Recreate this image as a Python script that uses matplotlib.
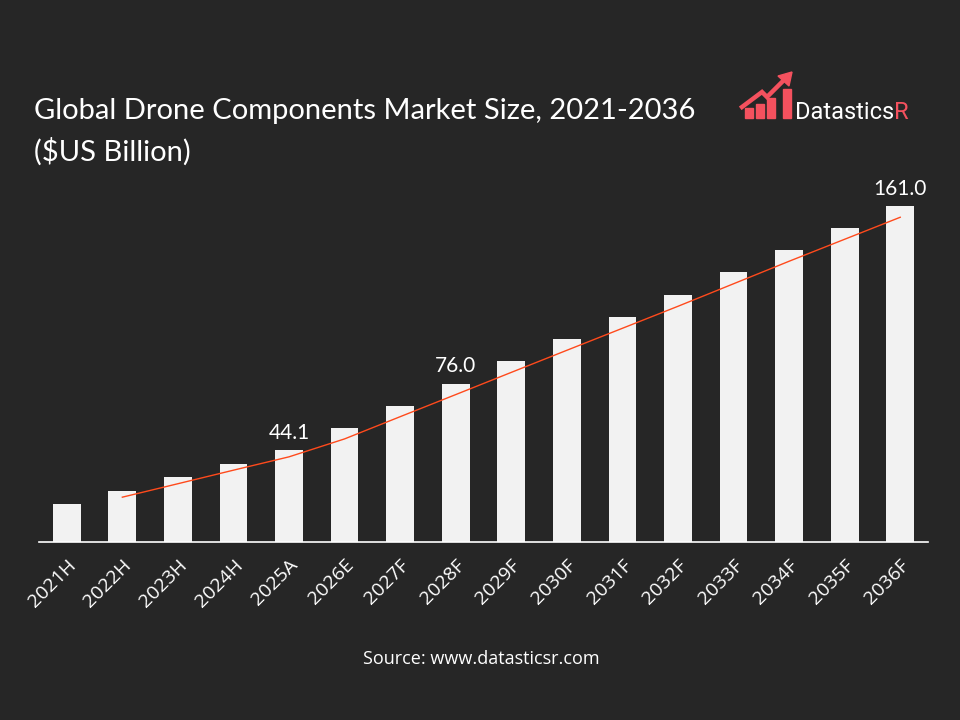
import numpy as np
import matplotlib
matplotlib.use('Agg')
from matplotlib import pyplot as plt
from matplotlib.patches import Rectangle, Polygon
from matplotlib.lines import Line2D

BG = '#262626'
BAR_COLOR = '#F2F2F2'
TREND_COLOR = '#FF4A1C'
LOGO_RED = '#F4515E'

years = ['2021H', '2022H', '2023H', '2024H', '2025A', '2026E', '2027F', '2028F',
         '2029F', '2030F', '2031F', '2032F', '2033F', '2034F', '2035F', '2036F']
values = [18.4, 24.6, 31.3, 37.6, 44.1, 54.8, 65.4, 76.0,
          86.7, 97.2, 107.8, 118.3, 129.4, 139.9, 150.5, 161.0]
labeled = ['2025A', '2028F', '2036F']

plt.rcParams['font.family'] = ['Lato', 'DejaVu Sans']

W, H = 960, 720
fig = plt.figure(figsize=(9.6, 7.2), dpi=100, facecolor=BG)


def px(x, y):
  # pixel coords (top-left origin) -> figure fraction
  return x / W, 1 - y / H


ax = fig.add_axes([39 / W, 1 - 542 / H, (928 - 39) / W, (542 - 180) / H])
ax.set_facecolor(BG)

x = np.arange(len(years))
ax.bar(x, values, width=0.5, color=BAR_COLOR, zorder=2)

# moving average trendline (period 2)
vals = np.array(values)
ma = (vals[1:] + vals[:-1]) / 2
ax.plot(x[1:], ma, color=TREND_COLOR, lw=1.0, zorder=3)

for i, (yr, v) in enumerate(zip(years, values)):
  if yr in labeled:
    ax.text(i, v + 3.5, f'{v:.1f}', ha='center', va='bottom', color='white', fontsize=15)

ax.set_xlim(-0.5, len(years) - 0.5)
ax.set_ylim(0, 362 / 2.085)
ax.set_yticks([])
ax.set_xticks(x)
ax.set_xticklabels(years, rotation=45, ha='right', rotation_mode='anchor', color='white',
                   fontsize=14, family=['Open Sans', 'DejaVu Sans'])
ax.tick_params(axis='x', length=0, pad=10)
for s in ['top', 'right', 'left']:
  ax.spines[s].set_visible(False)
ax.spines['bottom'].set_color('white')
ax.spines['bottom'].set_linewidth(1.2)

# title
fig.text(*px(34, 111), 'Global Drone Components Market Size, 2021-2036', color='white',
         fontsize=21, va='center', ha='left')
fig.text(*px(34, 152), '($US Billion)', color='white', fontsize=21, va='center', ha='left')

# source
fig.text(*px(481, 659), 'Source: www.datasticsr.com', color='white', fontsize=13,
         ha='center', va='center', family=['Open Sans', 'DejaVu Sans'])

# logo
for (x0, x1, top) in [(745, 753, 108), (756, 764, 104), (767, 775, 98), (783, 791, 89)]:
  fig.patches.append(Rectangle(px(x0, 118), (x1 - x0) / W, (118 - top) / H,
                               transform=fig.transFigure, color=LOGO_RED))
arrow_x = [742, 762, 767, 785]
arrow_y = [107, 92, 97, 79]
fig.lines.append(Line2D([a / W for a in arrow_x], [1 - b / H for b in arrow_y],
                        transform=fig.transFigure, color=LOGO_RED, lw=3.2,
                        solid_joinstyle='miter'))
head = [px(792, 72), px(778, 76), px(789, 86)]
fig.patches.append(Polygon(head, closed=True, transform=fig.transFigure, color=LOGO_RED))
t1 = fig.text(*px(795, 119), 'Datastics', color='white', fontsize=17, ha='left', va='baseline',
              family=['Liberation Sans Narrow', 'Roboto', 'DejaVu Sans'])
fig.canvas.draw()
bb = t1.get_window_extent()
fig.text(bb.x1 / W, 1 - 119 / H, 'R', color=LOGO_RED, fontsize=17, ha='left', va='baseline',
         family=['Liberation Sans Narrow', 'Roboto', 'DejaVu Sans'])

fig.savefig('out.png', dpi=100, facecolor=BG)
